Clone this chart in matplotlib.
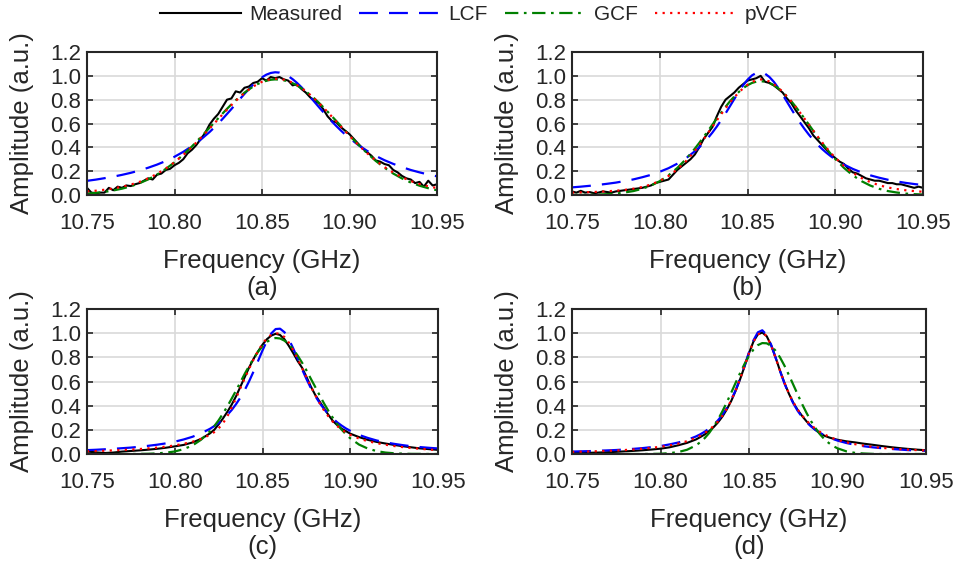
"""
Measured resonance vs. LCF / GCF / pVCF fits, four cases (a)-(d).
Output: out.png (957 x 565 px)
"""

import matplotlib
matplotlib.use("Agg")
import matplotlib.pyplot as plt

plt.rcParams["font.family"] = ["Liberation Sans", "DejaVu Sans"]

W, H = 957, 565
TEXT_COLOR = "#262626"

# frequency grid of the fitted curves (GHz), denser around the peak
FREQ_FIT = [
    10.750, 10.755, 10.760, 10.765, 10.770, 10.775, 10.780, 10.785, 10.790, 10.795,
    10.800, 10.805, 10.810, 10.815,
    10.8200, 10.8225, 10.8250, 10.8275, 10.8300, 10.8325, 10.8350, 10.8375, 10.8400,
    10.8425, 10.8450, 10.8475, 10.8500, 10.8525, 10.8550, 10.8575, 10.8600, 10.8625,
    10.8650, 10.8675, 10.8700, 10.8725, 10.8750, 10.8775, 10.8800, 10.8825, 10.8850,
    10.8875, 10.8900, 10.8925, 10.8950, 10.8975, 10.9000,
    10.905, 10.910, 10.915, 10.920, 10.925, 10.930, 10.935, 10.940, 10.945, 10.950,
]

# frequency grid of the noisy measured traces in (a) and (b)
FREQ_FINE = [
    10.7500, 10.7525, 10.7550, 10.7575, 10.7600, 10.7625, 10.7650, 10.7675, 10.7700, 10.7725,
    10.7750, 10.7775, 10.7800, 10.7825, 10.7850, 10.7875, 10.7900, 10.7925, 10.7950, 10.7975,
    10.8000, 10.8025, 10.8050, 10.8075, 10.8100, 10.8125, 10.8150, 10.8175, 10.8200, 10.8225,
    10.8250, 10.8275, 10.8300, 10.8325, 10.8350, 10.8375, 10.8400, 10.8425, 10.8450, 10.8475,
    10.8500, 10.8525, 10.8550, 10.8575, 10.8600, 10.8625, 10.8650, 10.8675, 10.8700, 10.8725,
    10.8750, 10.8775, 10.8800, 10.8825, 10.8850, 10.8875, 10.8900, 10.8925, 10.8950, 10.8975,
    10.9000, 10.9025, 10.9050, 10.9075, 10.9100, 10.9125, 10.9150, 10.9175, 10.9200, 10.9225,
    10.9250, 10.9275, 10.9300, 10.9325, 10.9350, 10.9375, 10.9400, 10.9425, 10.9450, 10.9475,
    10.9500,
]

# ---- panel (a) ----
MEAS_A = [
    0.06, 0.02, 0.015, 0.02, 0.02, 0.06, 0.04, 0.07, 0.06, 0.08,
    0.075, 0.09, 0.10, 0.12, 0.14, 0.13, 0.17, 0.18, 0.21, 0.22,
    0.25, 0.27, 0.30, 0.35, 0.38, 0.42, 0.47, 0.52, 0.59, 0.64,
    0.68, 0.74, 0.80, 0.81, 0.87, 0.86, 0.90, 0.91, 0.94, 0.95,
    0.98, 0.96, 0.99, 0.98, 0.99, 0.97, 0.96, 0.92, 0.93, 0.89,
    0.86, 0.82, 0.79, 0.77, 0.72, 0.66, 0.62, 0.61, 0.57, 0.54,
    0.51, 0.47, 0.43, 0.39, 0.36, 0.33, 0.29, 0.28, 0.26, 0.25,
    0.21, 0.19, 0.16, 0.14, 0.13, 0.10, 0.11, 0.07, 0.12, 0.08,
    0.09,
]
LCF_A = [
    0.119, 0.129, 0.141, 0.154, 0.169, 0.186, 0.206, 0.229, 0.255, 0.285,
    0.321, 0.362, 0.410, 0.465,
    0.528, 0.563, 0.600, 0.639, 0.680, 0.721, 0.764, 0.807, 0.849, 0.889, 0.927,
    0.960, 0.988, 1.010, 1.024, 1.030, 1.027, 1.016, 0.998, 0.972, 0.941, 0.905,
    0.866, 0.824, 0.781, 0.738, 0.696, 0.655, 0.616, 0.578, 0.542, 0.508, 0.477,
    0.420, 0.371, 0.328, 0.292, 0.261, 0.234, 0.210, 0.190, 0.172, 0.157,
]
GCF_A = [
    0.012, 0.018, 0.026, 0.038, 0.053, 0.073, 0.099, 0.131, 0.171, 0.219,
    0.274, 0.338, 0.408, 0.485,
    0.564, 0.604, 0.644, 0.684, 0.723, 0.760, 0.795, 0.828, 0.859, 0.886, 0.910,
    0.931, 0.947, 0.959, 0.967, 0.970, 0.968, 0.962, 0.952, 0.938, 0.919, 0.896,
    0.870, 0.841, 0.809, 0.774, 0.737, 0.699, 0.660, 0.620, 0.580, 0.540, 0.500,
    0.423, 0.352, 0.286, 0.229, 0.180, 0.139, 0.105, 0.078, 0.057, 0.040,
]
PVCF_A = [
    0.030, 0.036, 0.044, 0.055, 0.069, 0.087, 0.110, 0.140, 0.177, 0.222,
    0.275, 0.336, 0.404, 0.479,
    0.557, 0.597, 0.637, 0.677, 0.716, 0.754, 0.790, 0.824, 0.856, 0.885, 0.910,
    0.932, 0.950, 0.963, 0.972, 0.975, 0.974, 0.968, 0.957, 0.942, 0.922, 0.898,
    0.871, 0.841, 0.808, 0.772, 0.735, 0.696, 0.656, 0.616, 0.576, 0.536, 0.497,
    0.421, 0.352, 0.289, 0.234, 0.188, 0.149, 0.117, 0.092, 0.073, 0.058,
]

# ---- panel (b) ----
MEAS_B = [
    0.03, 0.02, 0.035, 0.02, 0.025, 0.015, 0.02, 0.03, 0.025, 0.02,
    0.03, 0.035, 0.04, 0.045, 0.05, 0.055, 0.06, 0.07, 0.08, 0.10,
    0.11, 0.12, 0.13, 0.17, 0.21, 0.24, 0.27, 0.30, 0.34, 0.40,
    0.47, 0.52, 0.57, 0.66, 0.74, 0.80, 0.83, 0.86, 0.90, 0.93,
    0.96, 0.97, 0.98, 1.00, 0.95, 0.94, 0.92, 0.89, 0.86, 0.81,
    0.77, 0.71, 0.66, 0.61, 0.56, 0.50, 0.46, 0.42, 0.38, 0.34,
    0.31, 0.28, 0.26, 0.22, 0.19, 0.18, 0.16, 0.14, 0.13, 0.12,
    0.12, 0.11, 0.10, 0.10, 0.09, 0.09, 0.08, 0.07, 0.06, 0.07,
    0.06,
]
LCF_B = [
    0.064, 0.070, 0.077, 0.085, 0.094, 0.104, 0.117, 0.131, 0.149, 0.169,
    0.195, 0.225, 0.263, 0.309,
    0.367, 0.400, 0.438, 0.479, 0.524, 0.574, 0.628, 0.685, 0.745, 0.806, 0.866,
    0.920, 0.967, 1.003, 1.025, 1.030, 1.018, 0.990, 0.950, 0.899, 0.842, 0.782,
    0.721, 0.662, 0.606, 0.554, 0.506, 0.462, 0.422, 0.386, 0.354, 0.325, 0.299,
    0.255, 0.219, 0.189, 0.165, 0.145, 0.128, 0.114, 0.102, 0.092, 0.083,
]
GCF_B = [
    0.001, 0.001, 0.002, 0.004, 0.007, 0.012, 0.021, 0.033, 0.052, 0.079,
    0.116, 0.165, 0.227, 0.302,
    0.389, 0.437, 0.487, 0.538, 0.590, 0.641, 0.691, 0.740, 0.786, 0.827, 0.864,
    0.896, 0.921, 0.940, 0.951, 0.955, 0.951, 0.940, 0.921, 0.896, 0.864, 0.827,
    0.786, 0.740, 0.691, 0.641, 0.590, 0.538, 0.487, 0.437, 0.389, 0.344, 0.302,
    0.227, 0.165, 0.116, 0.079, 0.052, 0.033, 0.021, 0.012, 0.007, 0.004,
]
PVCF_B = [
    0.020, 0.022, 0.024, 0.027, 0.031, 0.036, 0.043, 0.053, 0.067, 0.088,
    0.118, 0.160, 0.215, 0.285,
    0.370, 0.418, 0.468, 0.520, 0.573, 0.626, 0.678, 0.728, 0.776, 0.820, 0.860,
    0.895, 0.925, 0.948, 0.963, 0.970, 0.966, 0.952, 0.930, 0.901, 0.866, 0.827,
    0.784, 0.738, 0.690, 0.640, 0.590, 0.540, 0.490, 0.442, 0.396, 0.353, 0.313,
    0.243, 0.186, 0.142, 0.108, 0.082, 0.063, 0.050, 0.040, 0.033, 0.027,
]

# ---- panel (c) ----
MEAS_C = [
    0.020, 0.014, 0.008, 0.012, 0.020, 0.025, 0.030, 0.036, 0.043, 0.052,
    0.063, 0.075, 0.095, 0.125,
    0.170, 0.200, 0.245, 0.295, 0.350, 0.410, 0.480, 0.560, 0.640, 0.720, 0.790,
    0.850, 0.905, 0.950, 0.980, 0.995, 0.985, 0.950, 0.895, 0.835, 0.770, 0.715,
    0.640, 0.560, 0.490, 0.435, 0.380, 0.325, 0.275, 0.240, 0.210, 0.190, 0.168,
    0.140, 0.117, 0.100, 0.087, 0.075, 0.064, 0.055, 0.046, 0.040, 0.034,
]
LCF_C = [
    0.032, 0.035, 0.039, 0.043, 0.048, 0.053, 0.060, 0.068, 0.077, 0.088,
    0.102, 0.120, 0.142, 0.171,
    0.208, 0.231, 0.257, 0.288, 0.324, 0.365, 0.414, 0.469, 0.533, 0.606, 0.686,
    0.771, 0.857, 0.936, 0.998, 1.034, 1.037, 1.008, 0.950, 0.874, 0.789, 0.703,
    0.622, 0.547, 0.481, 0.424, 0.374, 0.332, 0.295, 0.263, 0.236, 0.212, 0.192,
    0.158, 0.133, 0.112, 0.096, 0.084, 0.073, 0.064, 0.057, 0.051, 0.046,
]
GCF_C = [
    0.000, 0.000, 0.000, 0.000, 0.000, 0.000, 0.001, 0.002, 0.005, 0.011,
    0.021, 0.040, 0.070, 0.118,
    0.187, 0.230, 0.279, 0.335, 0.395, 0.460, 0.527, 0.597, 0.667, 0.731, 0.793,
    0.847, 0.893, 0.928, 0.950, 0.960, 0.956, 0.938, 0.908, 0.867, 0.815, 0.757,
    0.693, 0.624, 0.556, 0.487, 0.420, 0.358, 0.301, 0.249, 0.203, 0.164, 0.130,
    0.078, 0.045, 0.024, 0.012, 0.006, 0.003, 0.001, 0.001, 0.000, 0.000,
]
PVCF_C = [
    0.022, 0.024, 0.027, 0.030, 0.033, 0.037, 0.041, 0.047, 0.053, 0.061,
    0.071, 0.084, 0.101, 0.125,
    0.158, 0.181, 0.212, 0.255, 0.312, 0.385, 0.465, 0.548, 0.630, 0.710, 0.785,
    0.853, 0.912, 0.958, 0.988, 1.000, 0.994, 0.968, 0.922, 0.860, 0.788, 0.712,
    0.635, 0.560, 0.488, 0.422, 0.363, 0.312, 0.268, 0.232, 0.202, 0.178, 0.158,
    0.128, 0.106, 0.090, 0.077, 0.066, 0.057, 0.049, 0.043, 0.037, 0.032,
]

# ---- panel (d) ----
MEAS_D = [
    0.015, 0.012, 0.010, 0.012, 0.015, 0.018, 0.022, 0.026, 0.031, 0.037,
    0.044, 0.055, 0.072, 0.092,
    0.120, 0.140, 0.162, 0.190, 0.222, 0.262, 0.310, 0.370, 0.440, 0.525, 0.620,
    0.725, 0.835, 0.930, 0.990, 1.005, 0.975, 0.900, 0.800, 0.690, 0.590, 0.500,
    0.425, 0.365, 0.315, 0.270, 0.232, 0.200, 0.172, 0.152, 0.138, 0.127, 0.118,
    0.105, 0.096, 0.085, 0.076, 0.066, 0.057, 0.049, 0.042, 0.036, 0.031,
]
LCF_D = [
    0.020, 0.022, 0.024, 0.027, 0.030, 0.033, 0.038, 0.043, 0.049, 0.057,
    0.066, 0.079, 0.095, 0.116,
    0.145, 0.163, 0.185, 0.211, 0.242, 0.279, 0.325, 0.381, 0.449, 0.530, 0.625,
    0.732, 0.842, 0.940, 1.007, 1.024, 0.986, 0.904, 0.798, 0.688, 0.585, 0.496,
    0.420, 0.357, 0.306, 0.263, 0.229, 0.200, 0.176, 0.155, 0.138, 0.124, 0.111,
    0.091, 0.076, 0.064, 0.055, 0.048, 0.042, 0.037, 0.032, 0.029, 0.026,
]
GCF_D = [
    0.000, 0.000, 0.000, 0.000, 0.000, 0.000, 0.000, 0.000, 0.000, 0.001,
    0.002, 0.007, 0.016, 0.035,
    0.071, 0.098, 0.132, 0.174, 0.226, 0.286, 0.354, 0.429, 0.509, 0.591, 0.671,
    0.746, 0.812, 0.864, 0.901, 0.918, 0.916, 0.895, 0.855, 0.800, 0.732, 0.655,
    0.574, 0.493, 0.413, 0.340, 0.273, 0.215, 0.165, 0.124, 0.092, 0.066, 0.047,
    0.022, 0.009, 0.004, 0.001, 0.000, 0.000, 0.000, 0.000, 0.000, 0.000,
]
PVCF_D = [
    0.017, 0.019, 0.021, 0.023, 0.026, 0.029, 0.033, 0.038, 0.044, 0.051,
    0.060, 0.071, 0.086, 0.106,
    0.134, 0.152, 0.174, 0.200, 0.232, 0.270, 0.318, 0.376, 0.446, 0.528, 0.622,
    0.727, 0.835, 0.930, 0.990, 1.005, 0.975, 0.898, 0.797, 0.690, 0.590, 0.503,
    0.429, 0.368, 0.318, 0.276, 0.240, 0.210, 0.184, 0.163, 0.145, 0.130, 0.117,
    0.097, 0.081, 0.069, 0.059, 0.051, 0.045, 0.040, 0.036, 0.032, 0.029,
]

X_TICKS = [10.75, 10.80, 10.85, 10.90, 10.95]
Y_TICKS = [0.0, 0.2, 0.4, 0.6, 0.8, 1.0, 1.2]
SERIES_NAMES = ["Measured", "LCF", "GCF", "pVCF"]

# (tag, measured freq, measured, lcf, gcf, pvcf, axes box in px: left, top, right, bottom)
PANELS = [
    ("(a)", FREQ_FINE, MEAS_A, LCF_A, GCF_A, PVCF_A, (87, 52, 437, 195)),
    ("(b)", FREQ_FINE, MEAS_B, LCF_B, GCF_B, PVCF_B, (572, 52, 923, 195)),
    ("(c)", FREQ_FIT, MEAS_C, LCF_C, GCF_C, PVCF_C, (87, 309, 438, 454)),
    ("(d)", FREQ_FIT, MEAS_D, LCF_D, GCF_D, PVCF_D, (572, 309, 926, 454)),
]


def px_axes(fig, box):
    left, top, right, bottom = box
    return fig.add_axes([left / W, 1 - bottom / H, (right - left) / W, (bottom - top) / H])


def draw_panel(fig, tag, f_meas, meas, lcf, gcf, pvcf, box):
    ax = px_axes(fig, box)
    ax.plot(f_meas, meas, color="black", lw=1.5, label=SERIES_NAMES[0])
    ax.plot(FREQ_FIT, lcf, color="#0000ff", lw=1.6, ls=(0, (8.5, 5)), label=SERIES_NAMES[1])
    ax.plot(FREQ_FIT, gcf, color="#008000", lw=1.6, ls=(0, (6, 2.5, 1.2, 2.5)),
            label=SERIES_NAMES[2])
    ax.plot(FREQ_FIT, pvcf, color="#ff0000", lw=1.6, ls=(0, (1, 2.4)), label=SERIES_NAMES[3])

    ax.set_xlim(10.75, 10.95)
    ax.set_ylim(0, 1.2)
    ax.set_xticks(X_TICKS)
    ax.set_yticks(Y_TICKS)
    ax.set_xticklabels([f"{v:.2f}" for v in X_TICKS])
    ax.set_yticklabels([f"{v:.1f}" for v in Y_TICKS])
    ax.tick_params(direction="in", length=4, width=1.2, top=True, right=True,
                   labelsize=16, colors=TEXT_COLOR)
    ax.tick_params(axis="x", pad=13)
    ax.tick_params(axis="y", pad=4)
    ax.grid(True, color="#d9d9d9", lw=1.2)
    ax.set_axisbelow(True)
    for sp in ax.spines.values():
        sp.set_linewidth(1.5)
        sp.set_color(TEXT_COLOR)

    left, top, right, bottom = box
    xc = (left + right) / 2 / W
    fig.text(xc, 1 - (bottom + 66) / H, "Frequency (GHz)", ha="center", va="center",
             fontsize=18.5, color=TEXT_COLOR)
    fig.text(xc, 1 - (bottom + 93) / H, tag, ha="center", va="center",
             fontsize=18.5, color=TEXT_COLOR)
    fig.text((left - 65) / W, 1 - (top + bottom) / 2 / H, "Amplitude (a.u.)",
             ha="center", va="center", rotation=90, fontsize=18.5, color=TEXT_COLOR)
    return ax


def main():
    fig = plt.figure(figsize=(W / 100, H / 100), dpi=100)
    axes = [draw_panel(fig, *p) for p in PANELS]

    handles = axes[0].get_lines()
    fig.legend(handles, SERIES_NAMES, ncol=4, loc="center",
               bbox_to_anchor=(0.5, 1 - 15 / H), frameon=False, fontsize=15,
               handlelength=3.9, handletextpad=0.4, columnspacing=0.8,
               labelcolor=TEXT_COLOR)

    fig.savefig("out.png", dpi=100)
    plt.close(fig)


if __name__ == "__main__":
    main()
